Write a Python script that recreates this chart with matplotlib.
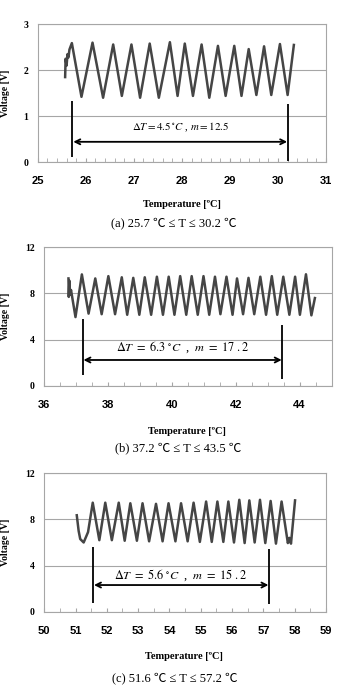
import numpy as np
import matplotlib.pyplot as plt
from matplotlib.ticker import MultipleLocator

plt.rcParams['mathtext.fontset'] = 'stix'

# Panel (a): 25.7 - 30.2 C, voltage read at the extrema of the trace
a_temp = [25.57, 25.58, 25.60, 25.62, 25.64, 25.66, 25.71, 25.91, 26.14, 26.36, 26.57,
          26.75, 26.95, 27.13, 27.33, 27.52, 27.75, 27.91, 28.06, 28.23, 28.41, 28.57,
          28.75, 28.91, 29.09, 29.24, 29.39, 29.55, 29.71, 29.86, 30.04, 30.20, 30.33]
a_volt = [1.85, 2.25, 2.10, 2.35, 2.28, 2.45, 2.59, 1.42, 2.60, 1.40, 2.56,
          1.44, 2.56, 1.40, 2.58, 1.40, 2.61, 1.44, 2.58, 1.44, 2.56, 1.40,
          2.53, 1.44, 2.53, 1.44, 2.46, 1.46, 2.52, 1.46, 2.57, 1.46, 2.55]

# Panel (b): 37.2 - 43.5 C
b_temp = [36.76, 36.77, 36.79, 36.81, 36.84, 36.98, 37.18, 37.39, 37.60, 37.80, 38.01,
          38.22, 38.43, 38.60, 38.79, 38.98, 39.15, 39.35, 39.53, 39.72, 39.90, 40.08,
          40.26, 40.45, 40.62, 40.81, 40.99, 41.17, 41.35, 41.52, 41.71, 41.90, 42.04,
          42.23, 42.40, 42.58, 42.77, 42.95, 43.13, 43.30, 43.49, 43.68, 43.86, 44.01,
          44.20, 44.37, 44.48]
b_volt = [9.3, 7.7, 9.1, 7.9, 8.3, 5.95, 9.65, 6.25, 9.3, 6.2, 9.5,
          6.2, 9.4, 6.15, 9.35, 6.15, 9.4, 6.15, 9.45, 6.15, 9.45, 6.15,
          9.5, 6.15, 9.5, 6.15, 9.5, 6.15, 9.45, 6.2, 9.45, 6.15, 9.3,
          6.2, 9.35, 6.2, 9.45, 6.15, 9.5, 6.15, 9.45, 6.15, 9.45, 6.15,
          9.66, 6.1, 7.6]

# Panel (c): 51.6 - 57.2 C
c_temp = [51.04, 51.10, 51.15, 51.26, 51.40, 51.55, 51.76, 51.95, 52.16, 52.38, 52.57,
          52.75, 52.96, 53.14, 53.35, 53.57, 53.78, 53.97, 54.19, 54.37, 54.58, 54.77,
          54.97, 55.17, 55.35, 55.53, 55.72, 55.88, 56.06, 56.23, 56.40, 56.55, 56.72,
          56.89, 57.06, 57.23, 57.40, 57.58, 57.78, 57.83, 57.88, 58.01]
c_volt = [8.36, 7.0, 6.3, 6.0, 6.9, 9.45, 6.2, 9.45, 6.2, 9.45, 6.15,
          9.4, 6.15, 9.4, 6.1, 9.35, 6.1, 9.4, 6.1, 9.4, 6.1, 9.45,
          6.05, 9.55, 6.05, 9.55, 6.05, 9.55, 6.0, 9.7, 5.95, 9.65, 6.0,
          9.7, 5.95, 9.6, 5.9, 9.55, 5.95, 6.4, 5.9, 9.65]

# Measurement window and annotation text per panel
ranges = [(25.72, 30.21), (37.21, 43.46), (51.57, 57.18)]
labels = [r'$\Delta T = 4.5\,^{\circ}C$ , $m = 12.5$',
          r'$\Delta T\ =\ 6.3\ ^{\circ}C$  ,  $m\ =\ 17\ .2$',
          r'$\Delta T\ =\ 5.6\ ^{\circ}C$  ,  $m\ =\ 15\ .2$']
captions = ['(a) 25.7 ℃ ≤ T ≤ 30.2 ℃',
            '(b) 37.2 ℃ ≤ T ≤ 43.5 ℃',
            '(c) 51.6 ℃ ≤ T ≤ 57.2 ℃']

serif = ['Liberation Serif', 'Noto Sans CJK KR', 'DejaVu Serif']
grey = '#a6a6a6'

fig = plt.figure(figsize=(3.4, 6.9), dpi=100)

ax_a = fig.add_axes([0.111, 0.7652, 0.848, 0.1996])
ax_b = fig.add_axes([0.130, 0.4410, 0.845, 0.2006])
ax_c = fig.add_axes([0.130, 0.1135, 0.829, 0.2006])


def style_axis(ax, xlim, xmajor, xminor, ylim, ystep):
    ax.set_xlim(*xlim)
    ax.set_ylim(*ylim)
    ax.xaxis.set_major_locator(MultipleLocator(xmajor))
    ax.xaxis.set_minor_locator(MultipleLocator(xminor))
    ax.yaxis.set_major_locator(MultipleLocator(ystep))
    ax.grid(axis='y', color=grey, linewidth=0.8)
    ax.set_axisbelow(True)
    for s in ax.spines.values():
        s.set_color(grey)
        s.set_linewidth(0.8)
    ax.tick_params(axis='x', which='both', direction='in', length=3, color=grey, pad=10)
    ax.tick_params(axis='y', length=0, pad=7)
    for t in ax.get_xticklabels():
        t.set_fontfamily('Liberation Sans')
        t.set_fontweight('bold')
        t.set_fontsize(8)
    for t in ax.get_yticklabels():
        t.set_fontfamily('Liberation Serif')
        t.set_fontweight('bold')
        t.set_fontsize(7)


style_axis(ax_a, (25, 31), 1, 0.2, (0, 3), 1)
style_axis(ax_b, (36, 45), 2, 0.5, (0, 12), 4)
style_axis(ax_c, (50, 59), 1, 0.5, (0, 12), 4)

# traces
line_kw = dict(color='#454545', linewidth=1.8, solid_joinstyle='round')
ax_a.plot(a_temp, a_volt, **line_kw)
ax_b.plot(b_temp, b_volt, **line_kw)
ax_c.plot(c_temp, c_volt, **line_kw)

# range markers: vertical bars, double arrow and label
marks = [
    (ax_a, [(0.12, 1.32), (0.03, 1.27)], 0.44, 0.76, 7.8),
    (ax_b, [(0.93, 5.75), (0.55, 5.3)], 2.23, 3.3, 8.8),
    (ax_c, [(0.78, 5.58), (0.64, 5.4)], 2.31, 3.15, 8.8),
]
for (ax, spans, y_arrow, y_text, fs), (t0, t1), lab in zip(marks, ranges, labels):
    ax.vlines(t0, spans[0][0], spans[0][1], color='black', linewidth=1.3)
    ax.vlines(t1, spans[1][0], spans[1][1], color='black', linewidth=1.3)
    ax.annotate('', xy=(t0 + 0.02, y_arrow), xytext=(t1 - 0.02, y_arrow),
                arrowprops=dict(arrowstyle='<->', color='black', lw=1.3,
                                mutation_scale=9, shrinkA=0, shrinkB=0))
    ax.text((t0 + t1) / 2, y_text, lab, ha='center', va='center',
            fontsize=fs, family=serif)

# y labels
for ax, xpos in [(ax_a, -0.096), (ax_b, -0.12), (ax_c, -0.12)]:
    ax.set_ylabel('Voltage [V]', family='Liberation Serif', fontweight='bold', fontsize=7)
    ax.yaxis.set_label_coords(xpos, 0.5)

# x labels and captions in figure coordinates
for xc, y_lab, y_cap, cap in [(0.535, 0.703, 0.677, captions[0]),
                              (0.55, 0.375, 0.351, captions[1]),
                              (0.54, 0.048, 0.017, captions[2])]:
    fig.text(xc, y_lab, 'Temperature [ºC]', ha='center', va='center',
             family='Liberation Serif', fontweight='bold', fontsize=7.5)
    fig.text(xc - 0.025, y_cap, cap, ha='center', va='center',
             family=serif, fontsize=9)

fig.savefig('out.png', dpi=100)
